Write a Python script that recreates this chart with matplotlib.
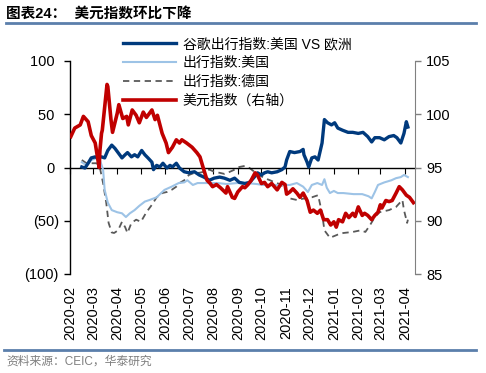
import numpy as np
import pandas as pd
import matplotlib
matplotlib.use('Agg')
import matplotlib.pyplot as plt
import matplotlib.dates as mdates
from matplotlib.ticker import FuncFormatter
from matplotlib.lines import Line2D

plt.rcParams['font.family'] = ['Liberation Sans', 'Noto Sans CJK SC']
plt.rcParams['font.size'] = 10.5
plt.rcParams['axes.unicode_minus'] = False

# Google mobility index: US vs Europe (left axis)
google_dates = ['2020-02-16', '2020-02-20', '2020-02-24', '2020-02-28', '2020-03-04', '2020-03-07',
                '2020-03-12', '2020-03-16', '2020-03-20', '2020-03-25', '2020-03-29', '2020-04-02',
                '2020-04-07', '2020-04-11', '2020-04-14', '2020-04-19', '2020-04-23', '2020-04-27',
                '2020-05-02', '2020-05-06', '2020-05-10', '2020-05-15', '2020-05-17', '2020-05-21',
                '2020-05-25', '2020-05-29', '2020-06-03', '2020-06-07', '2020-06-10', '2020-06-15',
                '2020-06-19', '2020-06-25', '2020-07-01', '2020-07-08', '2020-07-14', '2020-07-20',
                '2020-07-27', '2020-08-02', '2020-08-09', '2020-08-15', '2020-08-22', '2020-08-28',
                '2020-09-03', '2020-09-10', '2020-09-16', '2020-09-22', '2020-09-26', '2020-10-01',
                '2020-10-05', '2020-10-09', '2020-10-14', '2020-10-21', '2020-10-27', '2020-10-31',
                '2020-11-02', '2020-11-06', '2020-11-12', '2020-11-19', '2020-11-23', '2020-11-24',
                '2020-11-28', '2020-11-30', '2020-12-04', '2020-12-08', '2020-12-12', '2020-12-17',
                '2020-12-20', '2020-12-24', '2020-12-29', '2021-01-02', '2021-01-06', '2021-01-12',
                '2021-01-19', '2021-01-25', '2021-02-01', '2021-02-07', '2021-02-13', '2021-02-18',
                '2021-02-22', '2021-02-28', '2021-03-06', '2021-03-12', '2021-03-18', '2021-03-22',
                '2021-03-27', '2021-03-31', '2021-04-03', '2021-04-05']
google_vals = [0.5, -0.5, 4, 9, 10, 9,
               10, 9, 16, 21, 18, 14,
               9, 12, 14, 10, 12, 10,
               16, 12, 9, 5, -2, 2,
               0.5, 4, -0.5, 2, 0.5, 4,
               -0.5, -4, -5, -4, -7, -9,
               -12, -10, -9, -10, -12, -10,
               -14, -15, -14, -9, -5, -7,
               -5, -4, -5, -4, -2, 0.5,
               7, 15, 14, 15, 17, 12,
               5, 0.5, 9, 10, 7, 23,
               45, 42, 40, 42, 37, 35,
               33, 33, 32, 33, 29, 24,
               28, 28, 26, 29, 30, 28,
               23, 32, 43, 38]

# Mobility index: US (left axis)
us_dates = ['2020-02-16', '2020-02-22', '2020-02-28', '2020-03-06', '2020-03-10', '2020-03-14',
            '2020-03-16', '2020-03-20', '2020-03-25', '2020-04-01', '2020-04-07', '2020-04-12',
            '2020-04-17', '2020-04-23', '2020-04-29', '2020-05-06', '2020-05-12', '2020-05-21',
            '2020-05-31', '2020-06-09', '2020-06-18', '2020-06-25', '2020-06-29', '2020-07-06',
            '2020-07-12', '2020-07-24', '2020-08-06', '2020-08-18', '2020-08-31', '2020-09-12',
            '2020-09-25', '2020-10-03', '2020-10-12', '2020-10-24', '2020-11-06', '2020-11-15',
            '2020-11-23', '2020-11-29', '2020-12-04', '2020-12-11', '2020-12-17', '2020-12-20',
            '2020-12-23', '2020-12-27', '2021-01-01', '2021-01-06', '2021-01-13', '2021-01-26',
            '2021-02-06', '2021-02-14', '2021-02-18', '2021-02-22', '2021-02-26', '2021-03-06',
            '2021-03-15', '2021-03-21', '2021-03-27', '2021-03-31', '2021-04-05']
us_vals = [5, 2, 7, 9, 7, -2,
           -21, -33, -40, -42, -43, -46.5,
           -43, -40, -36, -32, -30.5, -28,
           -21, -18, -14.6, -14, -12, -16.4,
           -14.6, -14.6, -14.6, -15.5, -14.6, -14.6,
           -15.5, -16.4, -16.4, -16.4, -16.4, -14.6,
           -18, -23, -16.4, -14.6, -16.4, -11,
           -19, -24, -22, -24, -24, -25,
           -25, -27, -29, -23, -16.4, -14,
           -12, -10, -9, -7, -9]

# Mobility index: Germany (left axis)
de_dates = ['2020-02-16', '2020-02-22', '2020-02-28', '2020-03-06', '2020-03-10', '2020-03-14',
            '2020-03-18', '2020-03-21', '2020-03-25', '2020-03-28', '2020-04-02', '2020-04-07',
            '2020-04-11', '2020-04-14', '2020-04-19', '2020-04-25', '2020-05-01', '2020-05-08',
            '2020-05-15', '2020-05-21', '2020-05-28', '2020-06-03', '2020-06-09', '2020-06-15',
            '2020-06-19', '2020-06-25', '2020-07-01', '2020-07-08', '2020-07-14', '2020-07-20',
            '2020-07-27', '2020-08-02', '2020-08-09', '2020-08-15', '2020-08-22', '2020-08-28',
            '2020-09-03', '2020-09-10', '2020-09-16', '2020-09-22', '2020-09-28', '2020-10-05',
            '2020-10-12', '2020-10-18', '2020-10-24', '2020-10-31', '2020-11-06', '2020-11-15',
            '2020-11-25', '2020-12-04', '2020-12-12', '2020-12-17', '2020-12-20', '2020-12-27',
            '2021-01-06', '2021-01-13', '2021-01-25', '2021-02-04', '2021-02-10', '2021-02-16',
            '2021-02-22', '2021-02-28', '2021-03-12', '2021-03-21', '2021-03-29', '2021-03-31',
            '2021-04-04', '2021-04-05']
de_vals = [7, 4, 4, 4, -0.5, -14.6,
           -33, -52, -61, -61.5, -59, -51,
           -56, -61.5, -52, -49, -51, -42,
           -35, -28, -24, -23, -21, -18,
           -14.6, -12, -7, -5, -5, -4,
           -2, -4, -5, -6, -4, -2,
           0.5, 1.5, -0.5, -4, -7, -10,
           -12, -14, -15.5, -19, -29, -30.5,
           -29, -28, -26, -43, -59, -66,
           -63, -61.5, -60.5, -59, -60.5, -54,
           -46.5, -42, -40, -37, -30.5, -40,
           -52, -49]

# US dollar index (right axis)
dxy_dates = ['2020-02-02', '2020-02-07', '2020-02-14', '2020-02-18', '2020-02-24', '2020-02-28',
             '2020-03-04', '2020-03-09', '2020-03-10', '2020-03-12', '2020-03-13', '2020-03-19',
             '2020-03-20', '2020-03-24', '2020-03-26', '2020-04-01', '2020-04-03', '2020-04-08',
             '2020-04-13', '2020-04-15', '2020-04-20', '2020-04-25', '2020-04-29', '2020-05-04',
             '2020-05-08', '2020-05-15', '2020-05-19', '2020-05-22', '2020-05-28', '2020-06-02',
             '2020-06-05', '2020-06-10', '2020-06-15', '2020-06-19', '2020-06-22', '2020-06-28',
             '2020-07-05', '2020-07-11', '2020-07-15', '2020-07-19', '2020-07-24', '2020-07-28',
             '2020-07-31', '2020-08-05', '2020-08-10', '2020-08-17', '2020-08-19', '2020-08-25',
             '2020-08-28', '2020-09-01', '2020-09-07', '2020-09-10', '2020-09-14', '2020-09-18',
             '2020-09-23', '2020-09-26', '2020-10-01', '2020-10-05', '2020-10-09', '2020-10-14',
             '2020-10-21', '2020-10-27', '2020-10-31', '2020-11-02', '2020-11-06', '2020-11-10',
             '2020-11-15', '2020-11-19', '2020-11-23', '2020-11-28', '2020-12-02', '2020-12-06',
             '2020-12-11', '2020-12-15', '2020-12-19', '2020-12-24', '2020-12-28', '2021-01-01',
             '2021-01-04', '2021-01-07', '2021-01-12', '2021-01-16', '2021-01-20', '2021-01-25',
             '2021-01-28', '2021-02-01', '2021-02-06', '2021-02-09', '2021-02-13', '2021-02-18',
             '2021-02-22', '2021-02-26', '2021-03-01', '2021-03-03', '2021-03-08', '2021-03-12',
             '2021-03-16', '2021-03-21', '2021-03-25', '2021-03-29', '2021-04-03', '2021-04-07',
             '2021-04-12']
dxy_vals = [97.9, 98.7, 99.0, 99.8, 99.3, 98.0,
            97.3, 95.0, 96.6, 98.2, 98.5, 102.8,
            102.6, 99.5, 98.3, 100.1, 100.9, 99.6,
            99.8, 99.0, 100.4, 99.9, 99.2, 100.2,
            99.7, 100.4, 99.5, 99.9, 98.2, 97.3,
            96.4, 96.9, 97.6, 97.3, 97.6, 97.3,
            96.9, 96.4, 96.0, 95.0, 93.8, 93.5,
            93.2, 93.4, 93.1, 92.6, 93.2, 92.2,
            92.1, 92.7, 93.2, 93.1, 93.4, 93.8,
            94.5, 94.3, 93.5, 93.6, 93.2, 93.5,
            92.9, 93.6, 93.4, 92.5, 92.7, 93.0,
            92.6, 92.2, 92.6, 91.9, 90.8, 91.0,
            90.7, 91.0, 90.1, 90.1, 89.6, 89.9,
            89.4, 90.1, 89.9, 90.7, 90.3, 90.7,
            90.4, 91.3, 90.5, 90.7, 90.5, 90.1,
            90.5, 90.8, 91.5, 91.2, 91.9, 91.8,
            91.9, 92.6, 93.2, 92.9, 92.4, 92.2,
            91.7]

labels = ['谷歌出行指数:美国 VS 欧洲', '出行指数:美国', '出行指数:德国', '美元指数（右轴）']
colors = ['#003a7d', '#9dc3e6', '#595959', '#c00000']

fig = plt.figure(figsize=(4.86, 3.73), dpi=100)
ax1 = fig.add_axes([70 / 486, 1 - 274 / 373, 345 / 486, 213 / 373])
ax2 = ax1.twinx()

l1, = ax1.plot(pd.to_datetime(google_dates), google_vals, color=colors[0], lw=2.4, zorder=4)
l2, = ax1.plot(pd.to_datetime(us_dates), us_vals, color=colors[1], lw=1.5, zorder=3)
l3, = ax1.plot(pd.to_datetime(de_dates), de_vals, color=colors[2], lw=1.3, ls=(0, (3.5, 2.5)), zorder=2)
l4, = ax2.plot(pd.to_datetime(dxy_dates), dxy_vals, color=colors[3], lw=2.6)

ax1.set_ylim(-100, 100)
ax2.set_ylim(85, 105)
ax1.set_yticks([-100, -50, 0, 50, 100])
ax2.set_yticks([85, 90, 95, 100, 105])
ax1.yaxis.set_major_formatter(FuncFormatter(lambda v, p: f'({-v:.0f})' if v < 0 else f'{v:.0f} '))
ax1.set_xlim(pd.Timestamp('2020-02-01'), pd.Timestamp('2021-04-14'))

ax1.xaxis.set_major_locator(mdates.MonthLocator())
ax1.xaxis.set_major_formatter(mdates.DateFormatter('%Y-%m'))

# zero line carries the month ticks, labels sit at the bottom (on the twin)
for s in ['top', 'right']:
    ax1.spines[s].set_visible(False)
ax1.spines['bottom'].set_position(('data', 0))
ax1.spines['bottom'].set_linewidth(1.0)
ax1.spines['left'].set_linewidth(1.0)
ax1.tick_params(axis='x', direction='out', length=4, width=0.8, labelbottom=False)
ax1.tick_params(axis='y', direction='out', length=4, width=1.0, pad=4)

ax2.xaxis.set_visible(True)
for s in ['top', 'left', 'bottom']:
    ax2.spines[s].set_visible(False)
ax2.spines['right'].set_color('#808080')
ax2.tick_params(axis='x', length=0, labelbottom=True, labelrotation=90, pad=9)
ax2.tick_params(axis='y', direction='out', length=4, width=1.0, color='#808080', pad=4)

fig.legend([l1, l2, l3, l4], labels, loc='upper left', bbox_to_anchor=(123 / 486, 1 - 37 / 373),
           frameon=False, fontsize=10, handlelength=3.8, handletextpad=0.5, labelspacing=0.35,
           borderpad=0, borderaxespad=0)

# header and footer
fig.text(6 / 486, 1 - 14 / 373, '图表24：  美元指数环比下降', fontsize=10.5, fontweight='bold',
         va='center', ha='left')
fig.add_artist(Line2D([6 / 486, 476 / 486], [1 - 23 / 373, 1 - 23 / 373], color='#5b7fab', lw=2))
fig.add_artist(Line2D([4 / 486, 476 / 486], [1 - 350 / 373, 1 - 350 / 373], color='#5b7fab', lw=2))
fig.text(6 / 486, 1 - 362 / 373, '资料来源：CEIC，华泰研究', fontsize=8.5, color='#7f7f7f',
         va='center', ha='left')

fig.savefig('out.png', dpi=100)
